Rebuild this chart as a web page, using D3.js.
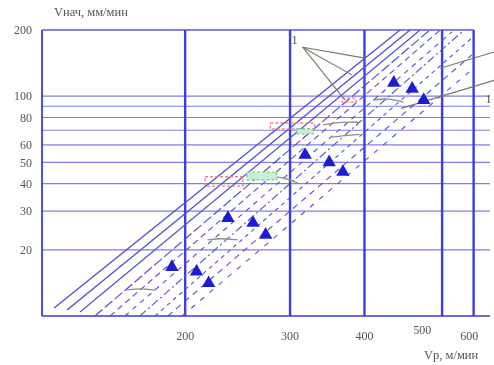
<!DOCTYPE html>
<html>
<head>
<meta charset="utf-8">
<script src="https://cdn.jsdelivr.net/npm/d3@7"></script>
<style>
  body { margin: 0; background: #fff; }
  text { font-family: "Liberation Serif", "DejaVu Serif", serif; fill: #555; }
</style>
</head>
<body>
<div id="chart"></div>
<script>
// axis ticks and grid (values, m/min)
const yTicks = [200, 100, 80, 60, 50, 40, 30, 20];
const yGrid = [100, 90, 80, 70, 60, 50, 40, 30, 20];
const xTicks = [200, 300, 400, 500, 600];
const xGrid = [115, 200, 300, 400, 540, 610];

// blue triangles: experimental points
const triVp = [190, 209, 219, 236, 260, 273, 318, 349, 368, 448, 481, 503];
const triV  = [16.7, 15.9, 14.1, 27.9, 26.5, 23.4, 54, 50, 45.2, 115, 108, 96];

// diagonal bound lines: start (Vp, V) -> end (Vp, V)
const lineStartVp = [120.5, 126.7, 133.2, 141.1, 149.6, 158.5, 167.9, 178, 187, 197.6];
const lineStartV  = [10.87, 10.65, 10.43, 10, 10, 10, 10, 10, 10, 10];
const lineEndVp   = [459, 477, 496, 515, 536, 561, 583, 606, 606, 606];
const lineEndV    = [200, 200, 200, 200, 200, 196, 196, 184, 154, 132];

// small experimental curves
const greySegs = [
  [[158.5, 13.1], [168, 13.4], [178, 13.1]],
  [[218, 22.2], [230, 22.6], [245, 22.2]],
  [[269, 42.5], [285, 43.5], [309, 40.3]],
  [[341, 74], [365, 76.5], [393, 76]],
  [[353, 65], [372, 66.5], [393, 67]],
  [[413, 96], [438, 98], [465, 94]]
];
const pinkBoxes = [[216, 250, 39, 43], [278, 330, 71, 75.5], [367, 387, 94, 98]];
const greenBoxes = [[254, 285, 41.6, 45.2], [308, 328, 67.3, 71]];

// label "1" leader lines
const leftLabel = [309, 173];
const leftLeaders = [[[315, 167], [401, 149]], [[315, 167], [381, 125]], [[315, 167], [371, 96]]];
const rightLabel = [638, 93];
const rightLeaders = [[[660, 159], [536, 134]], [[660, 118], [461, 88]]];

const width = 494, height = 365;
const svg = d3.select("#chart").append("svg")
  .attr("width", width).attr("height", height);

const defs = svg.append("defs");
defs.append("filter").attr("id", "soft")
  .append("feGaussianBlur").attr("stdDeviation", 0.45);

const g = svg.append("g").attr("filter", "url(#soft)");

const x = d3.scaleLog().domain([115, 660]).range([42, 494]);
const y = d3.scaleLog().domain([10, 200]).range([316, 30]);

// horizontal grid
g.selectAll(".hgrid").data(yGrid).enter().append("line")
  .attr("x1", x(115)).attr("x2", x(650))
  .attr("y1", d => y(d)).attr("y2", d => y(d))
  .attr("stroke", "#7e7ee6").attr("stroke-width", 1.2);
// top border
g.append("line").attr("x1", x(115)).attr("x2", x(610))
  .attr("y1", y(200)).attr("y2", y(200))
  .attr("stroke", "#5a5ae0").attr("stroke-width", 1.5);
// bottom border
g.append("line").attr("x1", x(115)).attr("x2", x(650))
  .attr("y1", y(10)).attr("y2", y(10))
  .attr("stroke", "#6a6ae4").attr("stroke-width", 2);

// vertical grid
g.selectAll(".vgrid").data(xGrid).enter().append("line")
  .attr("x1", d => x(d)).attr("x2", d => x(d))
  .attr("y1", y(200)).attr("y2", y(10))
  .attr("stroke", "#3d3de2").attr("stroke-width", (d, i) => i === 0 ? 1.8 : 2.4);

// diagonal lines
const dashes = [null, null, null, "10,3", "6,4", "5,5", "8,3,2,3", "4,4", "6,5", "5,7"];
const widths = [1.4, 1.4, 1.2, 1.2, 1.1, 1.1, 1.1, 1.1, 1.1, 1.1];
g.selectAll(".diag").data(lineStartVp).enter().append("line")
  .attr("x1", (d, i) => x(lineStartVp[i])).attr("y1", (d, i) => y(lineStartV[i]))
  .attr("x2", (d, i) => x(lineEndVp[i])).attr("y2", (d, i) => y(lineEndV[i]))
  .attr("stroke", "#5050da")
  .attr("stroke-width", (d, i) => widths[i])
  .attr("stroke-dasharray", (d, i) => dashes[i]);

const line = d3.line().x(d => x(d[0])).y(d => y(d[1])).curve(d3.curveBasis);

// grey experimental curves
g.selectAll(".grey").data(greySegs).enter().append("path")
  .attr("d", line).attr("fill", "none")
  .attr("stroke", "#8f8f80").attr("stroke-width", 1.3);

// pink and green markers
g.selectAll(".pink").data(pinkBoxes).enter().append("rect")
  .attr("x", d => x(d[0])).attr("width", d => x(d[1]) - x(d[0]))
  .attr("y", d => y(d[3])).attr("height", d => y(d[2]) - y(d[3]))
  .attr("fill", "none").attr("stroke", "#ee8080").attr("stroke-width", 1.3)
  .attr("stroke-dasharray", "3,2");
g.selectAll(".green").data(greenBoxes).enter().append("rect")
  .attr("x", d => x(d[0])).attr("width", d => x(d[1]) - x(d[0]))
  .attr("y", d => y(d[3])).attr("height", d => y(d[2]) - y(d[3]))
  .attr("fill", "#c8f0d0").attr("stroke", "#6cd090").attr("stroke-width", 1.2)
  .attr("stroke-dasharray", "3,2");

// leader lines
const leader = d3.line().x(d => x(d[0])).y(d => y(d[1]));
g.selectAll(".lead").data(leftLeaders.concat(rightLeaders)).enter().append("path")
  .attr("d", leader).attr("fill", "none")
  .attr("stroke", "#77776c").attr("stroke-width", 1.1);
g.append("text").attr("x", x(leftLabel[0])).attr("y", y(leftLabel[1]))
  .attr("font-size", 13).attr("text-anchor", "end").text("1");
g.append("text").attr("x", x(rightLabel[0])).attr("y", y(rightLabel[1]))
  .attr("font-size", 13).text("1");

// triangles
g.selectAll(".tri").data(triVp).enter().append("path")
  .attr("d", d3.symbol(d3.symbolTriangle, 78))
  .attr("transform", (d, i) => "translate(" + x(triVp[i]) + "," + y(triV[i]) + ")")
  .attr("fill", "#1f1fd0");

// y labels
g.selectAll(".ylab").data(yTicks).enter().append("text")
  .attr("x", 32).attr("y", d => y(d))
  .attr("dy", "0.35em").attr("text-anchor", "end")
  .attr("font-size", 12).text(d => d);

// x labels
g.selectAll(".xlab").data(xTicks).enter().append("text")
  .attr("x", d => x(d)).attr("y", (d, i) => i === 3 ? 334 : 340)
  .attr("text-anchor", "middle").attr("font-size", 12).text(d => d);

// axis titles
g.append("text").attr("x", 54).attr("y", 16).attr("font-size", 12.5).text("Vнач, мм/мин");
g.append("text").attr("x", 424).attr("y", 359).attr("font-size", 12.5).text("Vр, м/мин");
</script>
</body>
</html>
